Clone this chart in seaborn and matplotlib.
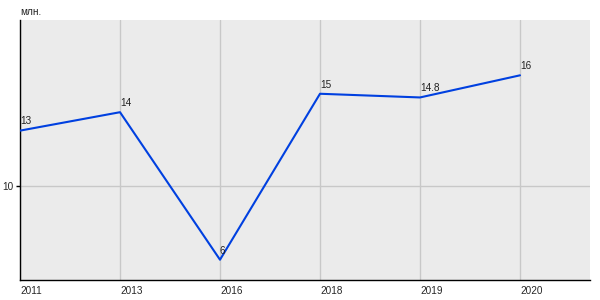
import matplotlib
matplotlib.use("Agg")
import matplotlib.pyplot as plt
import seaborn as sns
import pandas as pd

years = ["2011", "2013", "2016", "2018", "2019", "2020"]
values = [13, 14, 6, 15, 14.8, 16]
labels = ["13", "14", "6", "15", "14.8", "16"]
unit = "млн."

sns.set_style("white")
plt.rcParams["font.family"] = ["Liberation Sans", "DejaVu Sans"]

df = pd.DataFrame({"year": years, "value": values})
df["pos"] = range(len(years))

fig = plt.figure(figsize=(6, 3), dpi=100)
ax = fig.add_axes([20 / 600, 20 / 300, 570 / 600, 260 / 300])
ax.set_facecolor("#ebebeb")

sns.lineplot(data=df, x="pos", y="value", ax=ax, color="#0040e0", linewidth=1.5, zorder=3)

ax.set_xlim(0, 5.7)
ax.set_ylim(4.9, 19.0)
ax.set_xticks(df["pos"])
ax.set_xticklabels(years, ha="left", fontsize=7.2)
ax.set_yticks([10])
ax.set_yticklabels(["10"], fontsize=7.2, va="center_baseline")
ax.tick_params(axis="x", length=0, pad=4)
ax.tick_params(axis="y", left=True, length=3, width=1, color="black", direction="out", pad=2)
ax.grid(True, color="#c8c8c8", linewidth=1)
ax.set_xlabel("")
ax.set_ylabel("")

for s in ["top", "right"]:
    ax.spines[s].set_visible(False)
for s in ["left", "bottom"]:
    ax.spines[s].set_color("black")
    ax.spines[s].set_linewidth(1.0)

for p, v, t in zip(df["pos"], values, labels):
    ax.annotate(t, (p, v), xytext=(0, 3), textcoords="offset points",
                ha="left", va="bottom", fontsize=7.2, color="#222222")

fig.text(20 / 600, 1 - 12 / 300, unit, ha="left", va="center", fontsize=7.2, color="#222222")

fig.savefig("out.png", dpi=100)
